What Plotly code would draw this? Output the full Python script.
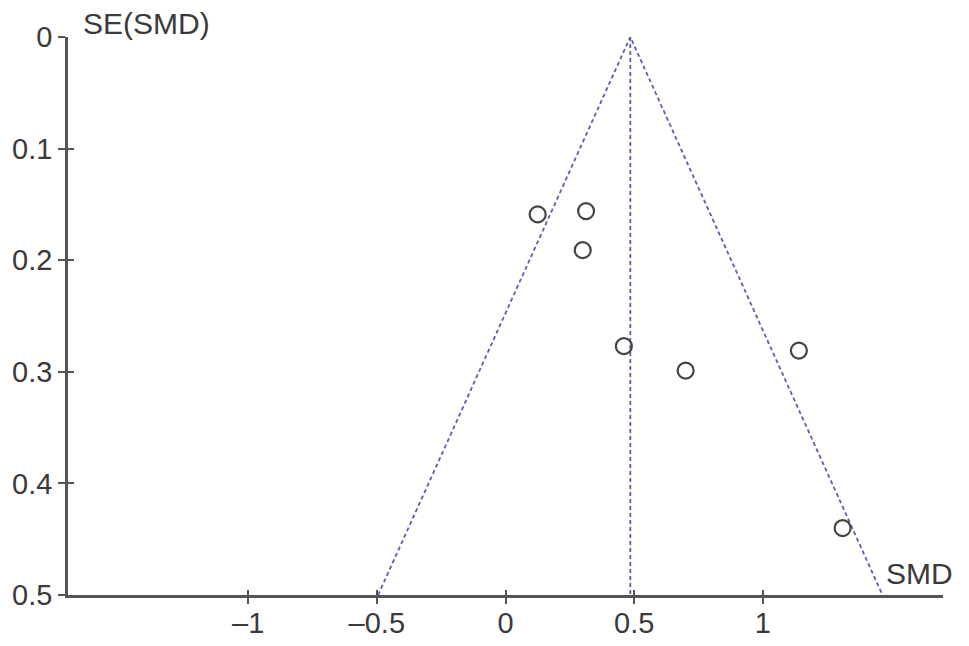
import plotly.graph_objects as go

# study estimates
smd = [0.125, 0.313, 0.30, 0.46, 0.70, 1.14, 1.31]
se_smd = [0.159, 0.156, 0.191, 0.277, 0.299, 0.281, 0.440]

# pooled estimate and pseudo 95% limits at SE = 0.5
pooled = 0.485
funnel_x = [-0.495, 0.485, 1.465]
funnel_y = [0.5, 0.0, 0.5]
center_y = [0.0, 0.5]

x_range = [-1.7, 1.7]
y_range = [0.5, 0]
x_ticks = [-1, -0.5, 0, 0.5, 1]
x_labels = ['–1', '–0.5', '0', '0.5', '1']
y_ticks = [0, 0.1, 0.2, 0.3, 0.4, 0.5]
y_labels = ['0', '0.1', '0.2', '0.3', '0.4', '0.5']

axis_color = '#555555'
funnel_color = '#5c5cb8'
font = dict(family='Liberation Sans, Arial', size=29, color='#3a3a3a')
label_font = dict(family='Liberation Sans, Arial', size=30, color='#3a3a3a')

fig = go.Figure()

fig.add_trace(go.Scatter(
    x=funnel_x, y=funnel_y, mode='lines',
    line=dict(color=funnel_color, width=1.8, dash='4px,3px'),
    hoverinfo='skip'
))
fig.add_trace(go.Scatter(
    x=[pooled, pooled], y=center_y, mode='lines',
    line=dict(color=funnel_color, width=1.8, dash='4px,3px'),
    hoverinfo='skip'
))
fig.add_trace(go.Scatter(
    x=smd, y=se_smd, mode='markers',
    marker=dict(symbol='circle-open', size=16, color='#444444', line=dict(width=2.2))
))
# invisible trace so the overlay axes (inner half of the cross ticks) get drawn
fig.add_trace(go.Scatter(x=[0], y=[0], xaxis='x2', yaxis='y2', mode='markers',
                         marker=dict(opacity=0), hoverinfo='skip'))

base_axis = dict(
    showgrid=False, zeroline=False, automargin=False,
    showline=True, linecolor=axis_color, linewidth=2.5,
    tickwidth=2, tickcolor=axis_color, tickfont=font,
)

# page body has an 8px margin, so the figure is shrunk to keep the plot in place
fig.update_layout(
    width=953, height=630,
    paper_bgcolor='white', plot_bgcolor='white',
    showlegend=False,
    font=font,
    margin=dict(l=60, r=18, t=29, b=43, autoexpand=False),
    xaxis=dict(range=x_range, tickvals=x_ticks, ticktext=x_labels,
               ticks='outside', ticklen=6, ticklabelstandoff=-6, **base_axis),
    yaxis=dict(range=y_range, tickvals=y_ticks, ticktext=y_labels,
               ticks='outside', ticklen=7, **base_axis),
    xaxis2=dict(range=x_range, tickvals=x_ticks, overlaying='x',
                ticks='inside', ticklen=5, showticklabels=False, **base_axis),
    yaxis2=dict(range=y_range, tickvals=y_ticks, overlaying='y',
                ticks='inside', ticklen=6, showticklabels=False, **base_axis),
    annotations=[
        dict(text='SE(SMD)', xref='paper', yref='paper', x=0.015, y=1.0,
             xanchor='left', yanchor='middle', yshift=14, showarrow=False, font=label_font),
        dict(text='SMD', xref='paper', yref='paper', x=1.014, y=0.0,
             xanchor='right', yanchor='middle', yshift=22, showarrow=False, font=label_font),
    ],
)

fig.write_html("out.html")
